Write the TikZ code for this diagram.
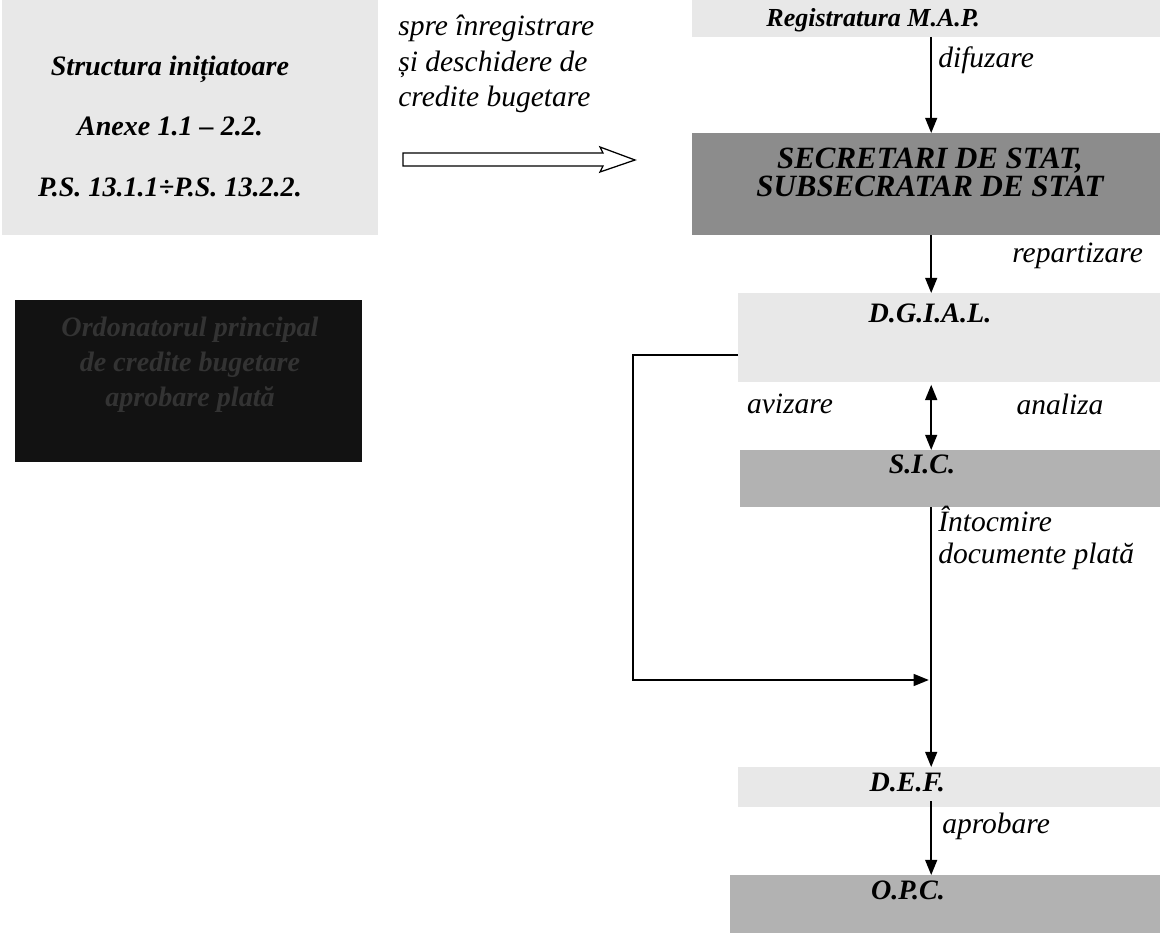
\documentclass[tikz,border=0pt]{standalone}
\usepackage{fontspec}
\setmainfont{Liberation Serif}
\usetikzlibrary{arrows.meta, positioning, calc}
\definecolor{paleshade}{RGB}{232, 232, 232}
\definecolor{midshade}{RGB}{140, 140, 140}
\definecolor{greyshade}{RGB}{178, 178, 178}
\definecolor{inkshade}{RGB}{18, 18, 18}

\tikzset{
  panel/.style={inner sep=0pt, outer sep=0pt},
  bigtxt/.style={font=\fontsize{20}{22}\selectfont\bfseries\itshape, inner sep=0pt},
  labtxt/.style={font=\fontsize{21}{24}\selectfont\itshape, inner sep=0pt},
  flow/.style={line width=1.1pt, -{Triangle[length=0.38cm, width=0.3cm]}},
}

\begin{document}
\begin{tikzpicture}
        \useasboundingbox (0,0) rectangle (29,-23.325);

        % Left column
        \node[panel, fill=paleshade, minimum width=9.4cm, minimum height=5.875cm] (struct) at (4.75,-2.94) {};
        \node[bigtxt, align=center, font=\fontsize{20}{43}\selectfont\bfseries\itshape] (structtxt) at (4.25,-3.15) {Structura inițiatoare\\Anexe 1.1 -- 2.2.\\P.S. 13.1.1÷P.S. 13.2.2.};
        \node[panel, fill=inkshade, minimum width=8.675cm, minimum height=4.05cm] (dark) at (4.71,-9.525) {};
        \node[bigtxt, align=center, text=black!80, font=\fontsize{20}{25}\selectfont\bfseries\itshape] (darktxt) at (4.75,-9.125) {Ordonatorul principal\\de credite bugetare\\aprobare plată};

        % Hollow arrow
        \draw[line width=0.9pt, fill=white] (10.075,-3.825) -- (15.075,-3.825) -- (15,-3.675) -- (15.875,-4.0) -- (15,-4.3) -- (15.075,-4.15) -- (10.075,-4.15) -- cycle;
        \node[labtxt, align=left, anchor=west, font=\fontsize{21}{25.5}\selectfont\itshape] (sendlbl) at (9.95,-1.6) {spre înregistrare\\și deschidere de\\credite bugetare};

        % Right column
        \coordinate (axis) at (23.28,0);
        \node[panel, fill=paleshade, minimum width=11.7cm, minimum height=0.925cm] (reg) at (23.15,-0.4625) {};
        \node[bigtxt, font=\fontsize{18.5}{20}\selectfont\bfseries\itshape] (regtxt) at (21.83,-0.5) {Registratura M.A.P.};
        \node[panel, fill=midshade, minimum width=11.7cm, minimum height=2.55cm] (sec) at (23.15,-4.6) {};
        \node[bigtxt, align=center, font=\fontsize{22}{20}\selectfont\bfseries\itshape] (sectxt) at (23.25,-4.3) {SECRETARI DE STAT,\\SUBSECRATAR DE STAT};
        \node[panel, fill=paleshade, minimum width=10.55cm, minimum height=2.225cm] (dgial) at (23.725,-8.4375) {};
        \node[bigtxt] (dgialtxt) at (23.25,-7.83) {D.G.I.A.L.};
        \node[panel, fill=greyshade, minimum width=10.5cm, minimum height=1.425cm] (sic) at (23.75,-11.9625) {};
        \node[bigtxt] (sictxt) at (23.05,-11.62) {S.I.C.};
        \node[panel, fill=paleshade, minimum width=10.55cm, minimum height=1.0cm] (def) at (23.725,-19.675) {};
        \node[bigtxt] (deftxt) at (22.68,-19.55) {D.E.F.};
        \node[panel, fill=greyshade, minimum width=10.75cm, minimum height=1.45cm] (opc) at (23.625,-22.6) {};
        \node[bigtxt] (opctxt) at (22.7,-22.25) {O.P.C.};

        % Arrows
        \draw[flow] (reg.south -| axis) -- (sec.north -| axis);
        \draw[flow] (sec.south -| axis) -- (dgial.north -| axis);
        \draw[flow, {Triangle[length=0.38cm, width=0.3cm]}-{Triangle[length=0.38cm, width=0.3cm]}, shorten <=2pt] (dgial.south -| axis) -- (sic.north -| axis);
        \draw[flow] (sic.south -| axis) -- (def.north -| axis);
        \draw[flow, shorten <=-4pt] (def.south -| axis) -- (opc.north -| axis);
        \coordinate (merge) at (23.22,-17);
        \draw[flow] ([yshift=0.675cm]dgial.south west) -- ++(-2.625,0) |- (merge);

        % Labels
        \node[labtxt, anchor=west] (difl) at (23.45,-1.5) {difuzare};
        \node[labtxt, anchor=west] (repl) at (25.3,-6.4) {repartizare};
        \node[labtxt] (avizl) at (19.75,-10.1) {avizare};
        \node[labtxt] (anall) at (26.5,-10.1) {analiza};
        \node[labtxt, anchor=west, align=left, font=\fontsize{21}{23}\selectfont\itshape] (intl) at (23.45,-13.45) {Întocmire\\documente plată};
        \node[labtxt, anchor=west] (aprl) at (23.55,-20.65) {aprobare};
    \end{tikzpicture}
\end{document}
